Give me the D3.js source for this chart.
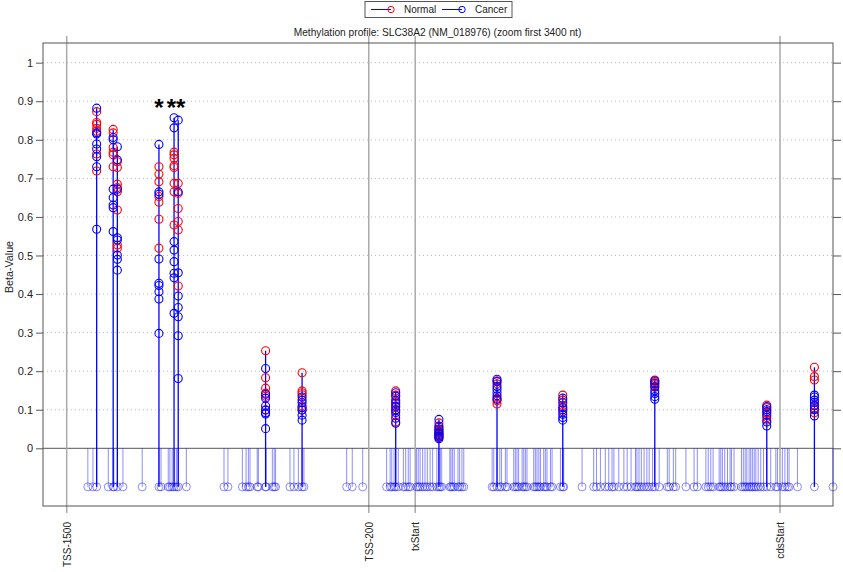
<!DOCTYPE html>
<meta charset="utf-8">

<body style="margin:0">
<style>

text {
  font-family: "Liberation Sans", Arial, sans-serif;
  font-size: 10px;
  fill: #222;
}

.grid line {
  stroke: #bbb;
  stroke-dasharray: 1,3;
}

.cpg {
  stroke: rgba(0,0,255,0.45);
  fill: none;
}

</style>
<script src="https://cdn.jsdelivr.net/npm/d3@7"></script>
<script>

// CpG positions relative to TSS (nt)
var cpgSites = [-1409, -1387, -1371, -1321, -1300, -1297, -1282, -1258, -1175, -1103, -1094, -1063, -1056, -1046,
  -1038, -1028, -1020, -985, -823, -806, -744, -728, -718, -711, -680, -675, -644, -642, -615, -607, -601,
  -539, -522, -503, -487, -479, -295, -271, -226, -123, -108, -101, -91, -84, -73, -51, -41, -30, -22,
  6, 13, 21, 32, 42, 52, 64, 75, 93, 102, 108, 114, 149, 154, 161, 168, 184, 191, 201, 209,
  331, 338, 352, 364, 371, 388, 395, 424, 431, 438, 445, 460, 467, 474, 481, 510, 517, 524, 532, 539,
  553, 560, 567, 582, 589, 625, 635, 639, 718, 768, 780, 797, 818, 833, 847, 855, 876, 898, 912, 929,
  948, 954, 963, 973, 985, 997, 1007, 1021, 1031, 1050, 1085, 1093, 1111, 1121, 1165, 1200, 1214,
  1251, 1261, 1272, 1282, 1308, 1315, 1322, 1332, 1344, 1355, 1361, 1372, 1404, 1412, 1420, 1427,
  1437, 1444, 1451, 1459, 1466, 1476, 1487, 1499, 1513, 1530, 1552, 1559, 1580, 1591, 1602, 1609,
  1645, 1718, 1798];

// measured probes
var sitePos = [-1371, -1300, -1282, -1103, -1038, -1020, -644, -487, -84, 102, 352, 635, 1031, 1513, 1718];

var normalValues = [
  [0.873, 0.845, 0.840, 0.830, 0.822, 0.763, 0.719],
  [0.827, 0.818, 0.780, 0.768, 0.761, 0.730],
  [0.743, 0.728, 0.685, 0.676, 0.665, 0.618, 0.527, 0.519],
  [0.730, 0.711, 0.691, 0.653, 0.638, 0.594, 0.519],
  [0.768, 0.761, 0.752, 0.733, 0.728, 0.687, 0.665, 0.579],
  [0.687, 0.661, 0.622, 0.588, 0.566, 0.421],
  [0.253, 0.183, 0.156, 0.143, 0.135, 0.100],
  [0.196, 0.149, 0.144, 0.139, 0.110, 0.100],
  [0.149, 0.138, 0.121, 0.110, 0.098, 0.086, 0.068],
  [0.066, 0.055, 0.048, 0.042, 0.038, 0.033, 0.030],
  [0.175, 0.167, 0.130, 0.123, 0.115],
  [0.138, 0.125, 0.110, 0.095],
  [0.177, 0.173, 0.170, 0.165, 0.158],
  [0.112, 0.105, 0.091, 0.080, 0.073],
  [0.210, 0.186, 0.177, 0.112, 0.104, 0.092]
];

var cancerValues = [
  [0.882, 0.818, 0.815, 0.789, 0.776, 0.756, 0.730, 0.568],
  [0.806, 0.800, 0.672, 0.650, 0.631, 0.624, 0.562],
  [0.782, 0.748, 0.672, 0.546, 0.540, 0.501, 0.490, 0.462],
  [0.788, 0.665, 0.659, 0.491, 0.428, 0.422, 0.406, 0.387, 0.298],
  [0.857, 0.831, 0.536, 0.514, 0.484, 0.454, 0.442, 0.350],
  [0.851, 0.665, 0.455, 0.395, 0.365, 0.341, 0.292, 0.181],
  [0.207, 0.140, 0.130, 0.110, 0.099, 0.092, 0.089, 0.051],
  [0.133, 0.125, 0.118, 0.106, 0.099, 0.086, 0.073],
  [0.144, 0.135, 0.125, 0.116, 0.108, 0.100, 0.093, 0.078, 0.065],
  [0.075, 0.058, 0.050, 0.045, 0.040, 0.036, 0.032, 0.028, 0.025],
  [0.179, 0.173, 0.160, 0.153, 0.144, 0.136, 0.127],
  [0.130, 0.118, 0.105, 0.100, 0.088, 0.080, 0.073],
  [0.175, 0.168, 0.160, 0.149, 0.142, 0.134, 0.127],
  [0.108, 0.100, 0.095, 0.085, 0.068, 0.058],
  [0.138, 0.133, 0.125, 0.119, 0.110, 0.100, 0.084]
];

var xTicks = [-1500, -200, 0, 1570];
var xTickLabels = ["TSS-1500", "TSS-200", "txStart", "cdsStart"];
var yTicks = [0, 0.1, 0.2, 0.3, 0.4, 0.5, 0.6, 0.7, 0.8, 0.9, 1];
var starPos = [-1103, -1029];
var starLabels = ["*", "**"];
var cpgLevel = -0.1;

var L = 43, R = 833, T = 43, B = 506;

var svg = d3.select("body").append("svg")
    .attr("width", 843)
    .attr("height", 572);

var x = d3.scaleLinear().domain([-1602, 1798]).range([L, R]);
var y = d3.scaleLinear().domain([-0.1496, 1.051]).range([B, T]);

// grid
svg.append("g").attr("class", "grid")
  .selectAll("line")
  .data(yTicks.filter(function(d) { return d > 0; }))
  .enter().append("line")
    .attr("x1", L).attr("x2", R)
    .attr("y1", y).attr("y2", y);

// zero line
svg.append("line")
    .attr("x1", L).attr("x2", R)
    .attr("y1", y(0)).attr("y2", y(0))
    .style("stroke", "#555");

// region lines
svg.selectAll(".vtick")
  .data(xTicks)
  .enter().append("line")
    .attr("x1", x).attr("x2", x)
    .attr("y1", 36).attr("y2", 513)
    .style("stroke", "#aaa")
    .style("stroke-width", 1.5);

svg.selectAll(".xlab")
  .data(xTicks)
  .enter().append("text")
    .attr("transform", function(d) { return "translate(" + (x(d) + 4) + ",522) rotate(-90)"; })
    .attr("text-anchor", "end")
    .text(function(d, i) { return xTickLabels[i]; });

// frame
svg.append("rect")
    .attr("x", L).attr("y", T)
    .attr("width", R - L).attr("height", B - T)
    .style("fill", "none")
    .style("stroke", "#555");

var yAxis = svg.append("g")
    .attr("transform", "translate(" + L + ",0)")
    .call(d3.axisLeft(y).tickValues(yTicks).tickSize(7).tickPadding(3).tickFormat(d3.format("")));
yAxis.select(".domain").remove();
yAxis.selectAll("line").style("stroke", "#555");
yAxis.selectAll("text").style("font-size", "11px").style("font-family", "Liberation Sans, Arial").style("fill", "#222");

var yAxisR = svg.append("g")
    .attr("transform", "translate(" + R + ",0)")
    .call(d3.axisRight(y).tickValues(yTicks).tickSize(8).tickFormat(""));
yAxisR.select(".domain").remove();
yAxisR.selectAll("line").style("stroke", "#555");

// CpG sites
var cpg = svg.append("g").attr("class", "cpg");
cpg.selectAll("line")
  .data(cpgSites)
  .enter().append("line")
    .attr("x1", x).attr("x2", x)
    .attr("y1", y(0)).attr("y2", y(cpgLevel));
cpg.selectAll("circle")
  .data(cpgSites)
  .enter().append("circle")
    .attr("cx", x)
    .attr("cy", y(cpgLevel))
    .attr("r", 4);

// measured stems
svg.selectAll(".stem")
  .data(sitePos)
  .enter().append("line")
    .attr("x1", x).attr("x2", x)
    .attr("y1", y(cpgLevel))
    .attr("y2", function(d, i) { return y(d3.max(normalValues[i].concat(cancerValues[i]))); })
    .style("stroke", "#00f")
    .style("stroke-width", 1.3);

function drawPoints(values, color) {
  var pts = [];
  values.forEach(function(v, i) {
    v.forEach(function(b) { pts.push([sitePos[i], b]); });
  });
  svg.append("g").selectAll("circle")
    .data(pts)
    .enter().append("circle")
      .attr("cx", function(d) { return x(d[0]); })
      .attr("cy", function(d) { return y(d[1]); })
      .attr("r", 4)
      .style("fill", "none")
      .style("stroke", color)
      .style("stroke-width", 1.1);
}
drawPoints(normalValues, "#f00");
drawPoints(cancerValues, "#00f");

// significance stars
svg.selectAll(".star")
  .data(starPos)
  .enter().append("text")
    .attr("x", x)
    .attr("y", y(0.9) + 15)
    .attr("text-anchor", "middle")
    .style("font-size", "24px")
    .style("font-weight", "bold")
    .style("fill", "#000")
    .text(function(d, i) { return starLabels[i]; });

// title, y label
svg.append("text")
    .attr("x", 437.5).attr("y", 36)
    .attr("text-anchor", "middle")
    .style("font-size", "10.2px")
    .text("Methylation profile: SLC38A2 (NM_018976) (zoom first 3400 nt)");

svg.append("text")
    .attr("transform", "translate(13,267) rotate(-90)")
    .attr("text-anchor", "middle")
    .style("font-size", "10.7px")
    .text("Beta-Value");

// legend
var leg = svg.append("g");
leg.append("rect")
    .attr("x", 365).attr("y", 1.5)
    .attr("width", 147).attr("height", 16)
    .style("fill", "#fff").style("stroke", "#555");
var legItems = [["Normal", "#f00", 371], ["Cancer", "#00f", 442]];
legItems.forEach(function(d) {
  leg.append("line")
      .attr("x1", d[2]).attr("x2", d[2] + 20)
      .attr("y1", 9.5).attr("y2", 9.5)
      .style("stroke", "#00f");
  leg.append("circle")
      .attr("cx", d[2] + 20).attr("cy", 9.5).attr("r", 3.2)
      .style("fill", "none").style("stroke", d[1]);
  leg.append("text")
      .attr("x", d[2] + 33).attr("y", 13.3)
      .text(d[0]);
});

</script>
